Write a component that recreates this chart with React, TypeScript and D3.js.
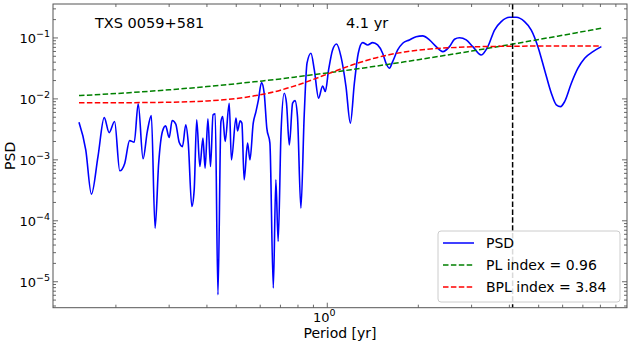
import React from "react";
import * as d3 from "d3";

// periodogram (period in yr, PSD)
const periods = [
  0.151, 0.159, 0.166, 0.1745, 0.183, 0.19, 0.198, 0.206, 0.214, 0.222,
  0.23, 0.237, 0.246, 0.254, 0.262, 0.2695, 0.277, 0.285, 0.292, 0.3,
  0.307, 0.3155, 0.324, 0.332, 0.3405, 0.347, 0.3565, 0.363, 0.37, 0.379,
  0.388, 0.3945, 0.403, 0.411, 0.419, 0.426, 0.435, 0.445, 0.451, 0.4595,
  0.474, 0.482, 0.499, 0.505, 0.515, 0.522, 0.531, 0.545, 0.555, 0.569,
  0.581, 0.592, 0.606, 0.6185, 0.631, 0.646, 0.663, 0.676, 0.688, 0.703,
  0.7205, 0.733, 0.749, 0.768, 0.782, 0.797, 0.818, 0.839, 0.857, 0.883,
  0.906, 0.936, 0.965, 0.985, 1.01, 1.041, 1.073, 1.11, 1.153, 1.192,
  1.229, 1.266, 1.309, 1.36, 1.413, 1.467, 1.524, 1.564, 1.604, 1.645,
  1.709, 1.776, 1.868, 1.966, 2.068, 2.176, 2.291, 2.409, 2.535, 2.634,
  2.736, 2.879, 3.028, 3.228, 3.395, 3.573, 3.76, 4.005, 4.215, 4.49,
  4.726, 4.971, 5.23, 5.505, 5.718, 5.908, 6.092, 6.412, 6.743, 7.096,
  7.557, 8.058,
];
const psd = [
  4.15e-3, 1.46e-3, 2.74e-4, 1.13e-3, 4.93e-3, 2.8e-3, 4.25e-3, 6.61e-4, 8.83e-4, 2.07e-3,
  1.95e-3, 8.28e-3, 1.04e-3, 2.91e-3, 5.32e-3, 7.59e-5, 8.83e-4, 2.91e-3, 3.61e-3, 2.32e-3,
  4.41e-3, 3.85e-3, 1.92e-3, 1.65e-3, 3.75e-3, 1.88e-3, 1.72e-4, 3.22e-4, 4.53e-3, 7.76e-4,
  2.27e-3, 7.31e-4, 4.7e-3, 7.76e-4, 5.47e-3, 5.68e-3, 6.12e-6, 4.25e-3, 5.13e-3, 2.0e-3,
  8.5e-3, 1.0e-3, 4.83e-3, 2.99e-3, 4.36e-3, 4.0e-3, 4.7e-4, 1.88e-3, 1.0e-3, 4.0e-3,
  6.19e-3, 9.63e-3, 1.85e-2, 1.24e-2, 3.31e-3, 1.88e-3, 7.88e-6, 4.7e-4, 4.58e-5, 2.74e-3,
  1.24e-2, 8.5e-3, 1.76e-3, 8.5e-3, 9.38e-3, 5.13e-3, 1.61e-4, 5.47e-3, 3.85e-2, 5.61e-2,
  2.99e-2, 1.03e-2, 1.63e-2, 1.32e-2, 2.99e-2, 6.36e-2, 7.97e-2, 4.93e-2, 1.59e-2, 4.0e-3,
  1.81e-2, 5.61e-2, 8.38e-2, 7.68e-2, 8.38e-2, 7.68e-2, 5.61e-2, 3.85e-2, 3.19e-2, 4.09e-2,
  6.36e-2, 8.19e-2, 9.27e-2, 0.105, 0.108, 9.27e-2, 7.2e-2, 5.96e-2, 7.2e-2, 9.52e-2,
  0.101, 9.27e-2, 7.2e-2, 5.26e-2, 7.2e-2, 0.135, 0.185, 0.218, 0.218, 0.185,
  0.135, 7.2e-2, 2.99e-2, 1.24e-2, 7.98e-3, 7.48e-3, 9.03e-3, 1.81e-2, 3.19e-2, 4.65e-2,
  5.96e-2, 7.2e-2,
];

// fitted models
const modelPeriods = [
  0.151, 0.2, 0.3, 0.4, 0.5, 0.6, 0.7, 0.8, 0.9, 1.0, 1.2,
  1.4, 1.6, 1.8, 2.0, 2.5, 3, 4, 5, 6, 8.05,
];
const plModel = [
  0.01132, 0.01224, 0.0141, 0.01593, 0.01775, 0.01955, 0.0213, 0.02312, 0.02489, 0.02665, 0.03015,
  0.03363, 0.0371, 0.04053, 0.044, 0.0525, 0.0609, 0.0777, 0.0942, 0.1107, 0.144,
];
const bplModel = [
  0.00862, 0.00865, 0.00882, 0.00927, 0.01015, 0.01166, 0.0139, 0.017, 0.0209, 0.0255, 0.0356,
  0.0452, 0.053, 0.0589, 0.0631, 0.0689, 0.0714, 0.0731, 0.0736, 0.0738, 0.0739,
];

const peakPeriod = 4.1;
const sourceName = "TXS 0059+581";
const peakLabel = "4.1 yr";
const legendLabels = ["PSD", "PL index = 0.96", "BPL index = 3.84"];
const legendColors = ["blue", "green", "red"];

const W = 631;
const H = 344;
const left = 53;
const right = 627;
const top = 4;
const bottom = 307.7;
const font = "DejaVu Sans, sans-serif";

const superMinus = (n: number) => (n < 0 ? "\u2212" + Math.abs(n) : String(n));

export default function App() {
  const x = d3.scaleLog().domain([0.1239, 9.795]).range([left, right]);
  const y = d3.scaleLog().domain([3.75e-6, 0.3606]).range([bottom, top]);

  const line = d3
    .line<number>()
    .x((d, i) => x(periods[i]))
    .y((d) => y(d))
    .curve(d3.curveMonotoneX);

  const modelLine = d3
    .line<number>()
    .x((d, i) => x(modelPeriods[i]))
    .y((d) => y(d))
    .curve(d3.curveMonotoneX);

  const isMajor = (v: number) => Math.abs(Math.log10(v) - Math.round(Math.log10(v))) < 1e-6;
  const xTicks = x.ticks();
  const yTicks = y.ticks();

  const tickColor = "#444";
  const dash = "5.5,2.4";

  return (
    <svg
      width={W}
      height={H}
      style={{ position: "absolute", left: 0, top: 0, background: "white" }}
      fontFamily={font}
    >
      <defs>
        <clipPath id="plot">
          <rect x={left} y={top} width={right - left} height={bottom - top} />
        </clipPath>
      </defs>

      <g clipPath="url(#plot)">
        <path d={line(psd) ?? ""} fill="none" stroke="blue" strokeWidth={1.6} strokeLinejoin="round" />
        <path d={modelLine(plModel) ?? ""} fill="none" stroke="green" strokeWidth={1.5} strokeDasharray={dash} />
        <path d={modelLine(bplModel) ?? ""} fill="none" stroke="red" strokeWidth={1.5} strokeDasharray={dash} />
        <line
          x1={x(peakPeriod)}
          x2={x(peakPeriod)}
          y1={top}
          y2={bottom}
          stroke="black"
          strokeWidth={1.5}
          strokeDasharray={dash}
        />
      </g>

      {/* x ticks, inward on bottom and top */}
      {xTicks.map((t, i) => {
        const len = isMajor(t) ? 5 : 3;
        const px = x(t);
        return (
          <g key={"x" + i} stroke={tickColor} strokeWidth={0.8}>
            <line x1={px} x2={px} y1={bottom} y2={bottom - len} />
            <line x1={px} x2={px} y1={top} y2={top + len} />
          </g>
        );
      })}
      {xTicks.filter(isMajor).map((t, i) => (
        <text key={"xl" + i} x={x(t) - 3} y={bottom + 14} fontSize={13} textAnchor="middle" fill="black">
          10
          <tspan dy={-5.5} fontSize={9.5}>
            {superMinus(Math.round(Math.log10(t)))}
          </tspan>
        </text>
      ))}

      {/* y ticks, inward on left and right */}
      {yTicks.map((t, i) => {
        const len = isMajor(t) ? 5 : 3;
        const py = y(t);
        return (
          <g key={"y" + i} stroke={tickColor} strokeWidth={0.8}>
            <line x1={left} x2={left + len} y1={py} y2={py} />
            <line x1={right} x2={right - len} y1={py} y2={py} />
          </g>
        );
      })}
      {yTicks.filter(isMajor).map((t, i) => (
        <text key={"yl" + i} x={50} y={y(t) + 5} fontSize={13} textAnchor="end" fill="black">
          10
          <tspan dy={-5.5} fontSize={9.5}>
            {superMinus(Math.round(Math.log10(t)))}
          </tspan>
        </text>
      ))}

      <rect
        x={left}
        y={top}
        width={right - left}
        height={bottom - top}
        fill="none"
        stroke="#555"
        strokeWidth={1}
      />

      <text x={95} y={28} fontSize={14.5} fill="black">
        {sourceName}
      </text>
      <text x={346} y={28} fontSize={14.5} fill="black">
        {peakLabel}
      </text>

      <text x={(left + right) / 2} y={337.5} fontSize={14} textAnchor="middle" fill="black">
        Period [yr]
      </text>
      <text
        transform={`translate(15, ${(top + bottom) / 2}) rotate(-90)`}
        fontSize={14}
        textAnchor="middle"
        fill="black"
      >
        PSD
      </text>

      {/* legend */}
      <g>
        <rect x={438} y={231} width={182} height={71} rx={3} fill="white" fillOpacity={0.85} stroke="#ccc" />
        {legendLabels.map((lab, i) => {
          const ly = 243 + i * 22;
          return (
            <g key={lab}>
              <line
                x1={443}
                x2={474}
                y1={ly}
                y2={ly}
                stroke={legendColors[i]}
                strokeWidth={1.5}
                strokeDasharray={i === 0 ? undefined : dash}
              />
              <text x={486} y={ly + 5} fontSize={14} fill="black">
                {lab}
              </text>
            </g>
          );
        })}
      </g>
    </svg>
  );
}
